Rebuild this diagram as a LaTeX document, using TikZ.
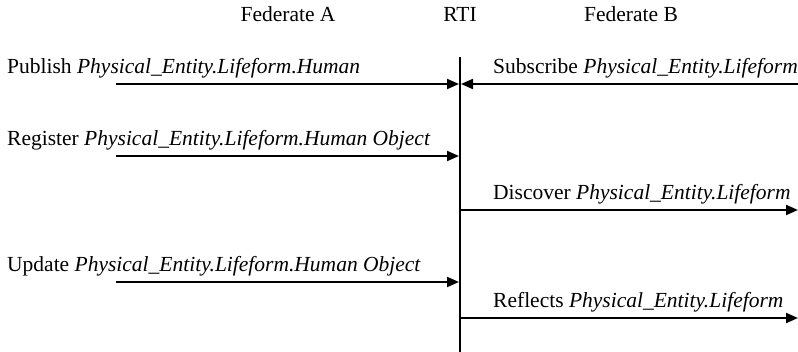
\documentclass[tikz,border=0pt]{standalone}
\usepackage{fontspec}
\setmainfont{Liberation Serif}
\usetikzlibrary{arrows.meta}
\begin{document}
\begin{tikzpicture}[x=1pt,y=-1pt,
  txt/.style={inner sep=0pt, font=\fontsize{21.5}{25}\selectfont},
  lbl/.style={txt, anchor=base west},
  hdr/.style={txt, anchor=base},
  msg/.style={line width=2pt, -{Triangle[length=12pt,width=10pt]}},
  life/.style={line width=2pt}]
\useasboundingbox (0,0) rectangle (798,352);

% column headings
\node[hdr] (fedA) at (288,22) {Federate A};
\node[hdr] (rti)  at (460,22) {RTI};
\node[hdr] (fedB) at (631,22) {Federate B};

% RTI lifeline
\coordinate (rtiTop) at (460,57);
\coordinate (rtiBot) at (460,352);
\draw[life] (rtiTop) -- (rtiBot);

% points on the lifeline and free ends of the messages
\coordinate (pubL)  at (116,84);  \coordinate (pubR)  at (459,84);
\coordinate (subR)  at (798,84);  \coordinate (subL)  at (461,84);
\coordinate (regL)  at (116,156); \coordinate (regR)  at (459,156);
\coordinate (disL)  at (460,210); \coordinate (disR)  at (798,210);
\coordinate (updL)  at (116,282); \coordinate (updR)  at (459,282);
\coordinate (refL)  at (460,318); \coordinate (refR)  at (798,318);

% message labels
\node[lbl] (pubT) at (7,74)    {Publish \textit{Physical\_Entity.Lifeform.Human}};
\node[lbl] (subT) at (493,74)  {Subscribe \textit{Physical\_Entity.Lifeform}};
\node[lbl] (regT) at (7,146)   {Register \textit{Physical\_Entity.Lifeform.Human Object}};
\node[lbl] (disT) at (493,200) {Discover \textit{Physical\_Entity.Lifeform}};
\node[lbl] (updT) at (7,272)   {Update \textit{Physical\_Entity.Lifeform.Human Object}};
\node[lbl] (refT) at (493,308) {Reflects \textit{Physical\_Entity.Lifeform}};

% messages
\draw[msg] (pubL) -- (pubR);
\draw[msg] (subR) -- (subL);
\draw[msg] (regL) -- (regR);
\draw[msg] (disL) -- (disR);
\draw[msg] (updL) -- (updR);
\draw[msg] (refL) -- (refR);
\end{tikzpicture}
\end{document}
